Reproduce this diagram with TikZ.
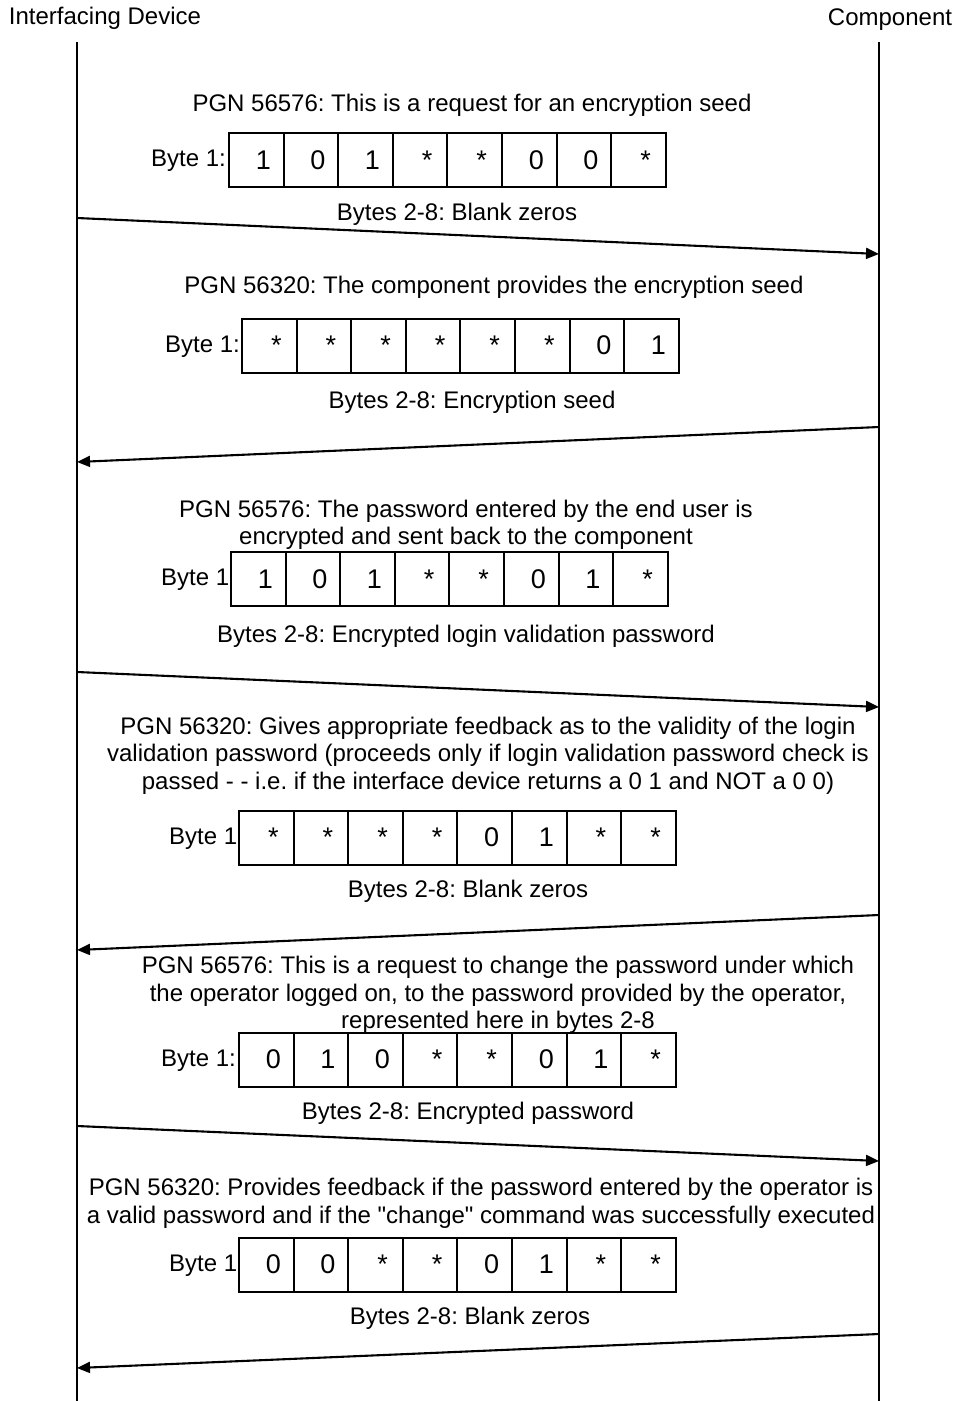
\documentclass[tikz,border=0pt]{standalone}
\usepackage{fontspec}
\setmainfont{Liberation Sans}
\usepackage{tikz}
\usetikzlibrary{arrows.meta,positioning}
\frenchspacing

\begin{document}
\begin{tikzpicture}[
  x=1pt, y=-1pt,
  txt/.style={align=center, font=\fontsize{24}{27.5}\selectfont, inner sep=0pt},
  cell/.style={draw, fill=white, line width=2pt, minimum width=54.6pt, minimum height=54pt, inner sep=0pt,
    font=\fontsize{27}{30}\selectfont, execute at begin node=\hspace*{14pt}},
  lbl/.style={anchor=east, font=\fontsize{24}{27}\selectfont, inner sep=0pt},
  life/.style={line width=1.8pt},
  msg/.style={line width=2.1pt, -{Triangle[length=13pt,width=11pt]}}
]
\useasboundingbox (0,0) rectangle (959,1401);
% lifelines
\node[txt] (dev) at (105,18) {Interfacing Device};
\node[txt] (cmp) at (890,20) {Component};
\coordinate (devtop) at (77,42);
\coordinate (devbot) at (77,1401);
\coordinate (cmptop) at (879,42);
\coordinate (cmpbot) at (879,1401);
\draw[life] (devtop) -- (devbot);
\draw[life] (cmptop) -- (cmpbot);

% message 1: seed request
\node[txt] (t1) at (472,105.5) {PGN 56576: This is a request for an encryption seed};
\node[lbl] (b1) at (226,161) {Byte 1:};
\foreach \v [count=\i] in {1,0,1,*,*,0,0,*}
  \node[cell] (a\i) at ({229+27.3+(\i-1)*54.6},160) {\v};
\node[txt] (r1) at (457,214.5) {Bytes 2-8: Blank zeros};
\coordinate (dev1) at (77,218);
\coordinate (cmp1) at (879,254);
\draw[msg] (dev1) -- (cmp1);

% message 2: seed provided
\node[txt] (t2) at (494,287.5) {PGN 56320: The component provides the encryption seed};
\node[lbl] (b2) at (240,346.5) {Byte 1:};
\foreach \v [count=\i] in {*,*,*,*,*,*,0,1}
  \node[cell] (b\i) at ({242+27.3+(\i-1)*54.6},345.5) {\v};
\node[txt] (r2) at (472,402.5) {Bytes 2-8: Encryption seed};
\coordinate (cmp2) at (879,427);
\coordinate (dev2) at (77,462);
\draw[msg] (cmp2) -- (dev2);

% message 3: encrypted password
\node[txt] (t3) at (466,525) {PGN 56576: The password entered by the end user is\\encrypted and sent back to the component};
\node[lbl] (b3) at (236,580) {Byte 1:};
\foreach \v [count=\i] in {1,0,1,*,*,0,1,*}
  \node[cell] (c\i) at ({231+27.3+(\i-1)*54.6},579) {\v};
\node[txt] (r3) at (466,636.5) {Bytes 2-8: Encrypted login validation password};
\coordinate (dev3) at (77,672);
\coordinate (cmp3) at (879,707);
\draw[msg] (dev3) -- (cmp3);

% message 4: login feedback
\node[txt] (t4) at (488,755.5) {PGN 56320: Gives appropriate feedback as to the validity of the login\\validation password (proceeds only if login validation password check is\\passed - - i.e. if the interface device returns a 0 1 and NOT a 0 0)};
\node[lbl] (b4) at (244,838.5) {Byte 1:};
\foreach \v [count=\i] in {*,*,*,*,0,1,*,*}
  \node[cell] (d\i) at ({239+27.3+(\i-1)*54.6},837.5) {\v};
\node[txt] (r4) at (468,891.5) {Bytes 2-8: Blank zeros};
\coordinate (cmp4) at (879,915);
\coordinate (dev4) at (77,950);
\draw[msg] (cmp4) -- (dev4);

% message 5: change password
\node[txt] (t5) at (498,995) {PGN 56576: This is a request to change the password under which\\the operator logged on, to the password provided by the operator,\\represented here in bytes 2-8};
\node[lbl] (b5) at (236,1060.5) {Byte 1:};
\foreach \v [count=\i] in {0,1,0,*,*,0,1,*}
  \node[cell] (e\i) at ({239+27.3+(\i-1)*54.6},1059.5) {\v};
\node[txt] (r5) at (468,1113.5) {Bytes 2-8: Encrypted password};
\coordinate (dev5) at (77,1126);
\coordinate (cmp5) at (879,1161);
\draw[msg] (dev5) -- (cmp5);

% message 6: change feedback
\node[txt] (t6) at (481,1203.5) {PGN 56320: Provides feedback if the password entered by the operator is\\a valid password and if the \textquotedbl change\textquotedbl{} command was successfully executed};
\node[lbl] (b6) at (244,1265.5) {Byte 1:};
\foreach \v [count=\i] in {0,0,*,*,0,1,*,*}
  \node[cell] (f\i) at ({239+27.3+(\i-1)*54.6},1264.5) {\v};
\node[txt] (r6) at (470,1318.5) {Bytes 2-8: Blank zeros};
\coordinate (cmp6) at (879,1334);
\coordinate (dev6) at (77,1368);
\draw[msg] (cmp6) -- (dev6);
\end{tikzpicture}
\end{document}
